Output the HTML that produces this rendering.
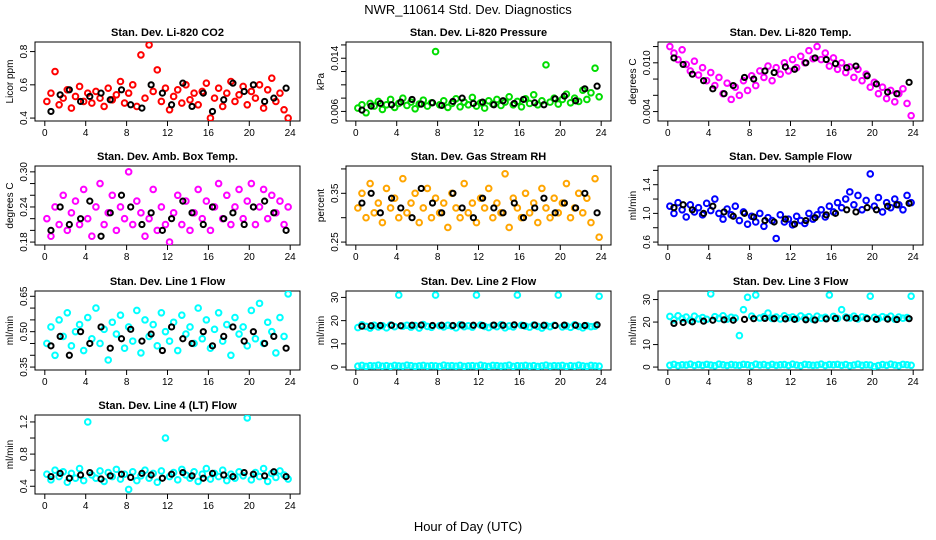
<!DOCTYPE html>
<html><head><meta charset="utf-8"><style>
body{margin:0;background:#fff;}
svg{display:block;font-family:"Liberation Sans",sans-serif;}
</style></head><body>
<svg id="chart" width="936" height="540" viewBox="0 0 936 540">
<text x="468" y="14" text-anchor="middle" font-size="13">NWR_110614 Std. Dev. Diagnostics</text>
<text x="468" y="531" text-anchor="middle" font-size="13">Hour of Day (UTC)</text>
</svg>
<script>
const hours = [0.2,0.6,1.0,1.4,1.8,2.2,2.6,3.0,3.4,3.8,4.2,4.6,5.0,5.4,5.8,6.2,6.6,7.0,7.4,7.8,8.2,8.6,9.0,9.4,9.8,10.2,10.6,11.0,11.4,11.8,12.2,12.6,13.0,13.4,13.8,14.2,14.6,15.0,15.4,15.8,16.2,16.6,17.0,17.4,17.8,18.2,18.6,19.0,19.4,19.8,20.2,20.6,21.0,21.4,21.8,22.2,22.6,23.0,23.4,23.8];
const hoursBlack = [0.6,1.5,2.4,3.5,4.4,5.5,6.4,7.5,8.4,9.5,10.4,11.5,12.4,13.5,14.4,15.5,16.4,17.5,18.4,19.5,20.4,21.5,22.4,23.6];
const xTicks = [0,4,8,12,16,20,24];

const co2 = [0.50,0.55,0.68,0.48,0.52,0.57,0.46,0.53,0.59,0.50,0.55,0.49,0.56,0.52,0.47,0.58,0.51,0.54,0.62,0.49,0.55,0.60,0.47,0.78,0.52,0.84,0.56,0.69,0.50,0.58,0.45,0.53,0.57,0.49,0.60,0.51,0.55,0.48,0.56,0.61,0.40,0.52,0.58,0.47,0.55,0.62,0.50,0.54,0.59,0.48,0.56,0.52,0.60,0.46,0.57,0.64,0.50,0.55,0.45,0.40];
const co2Black = [0.44,0.54,0.57,0.50,0.53,0.55,0.51,0.57,0.48,0.46,0.60,0.55,0.48,0.61,0.47,0.55,0.44,0.51,0.61,0.56,0.60,0.50,0.52,0.58];
const pressure = [0.0065,0.0070,0.0058,0.0072,0.0068,0.0075,0.0063,0.0070,0.0078,0.0066,0.0072,0.0080,0.0069,0.0074,0.0064,0.0071,0.0077,0.0068,0.0073,0.0150,0.0070,0.0076,0.0066,0.0072,0.0079,0.0067,0.0074,0.0070,0.0081,0.0068,0.0073,0.0065,0.0076,0.0071,0.0078,0.0069,0.0074,0.0082,0.0070,0.0075,0.0067,0.0079,0.0072,0.0085,0.0070,0.0076,0.0130,0.0074,0.0080,0.0071,0.0078,0.0086,0.0073,0.0080,0.0075,0.0092,0.0078,0.0088,0.0125,0.0082];
const pressureBlack = [0.0062,0.0068,0.0072,0.0070,0.0074,0.0078,0.0071,0.0073,0.0069,0.0075,0.0080,0.0072,0.0074,0.0070,0.0076,0.0072,0.0078,0.0073,0.0070,0.0079,0.0083,0.0076,0.0094,0.0098];
const temp = [0.0120,0.0112,0.0104,0.0116,0.0098,0.0090,0.0102,0.0085,0.0094,0.0078,0.0088,0.0072,0.0082,0.0062,0.0075,0.0055,0.0070,0.0060,0.0078,0.0066,0.0084,0.0072,0.0090,0.0082,0.0096,0.0078,0.0094,0.0086,0.0100,0.0090,0.0104,0.0094,0.0108,0.0100,0.0115,0.0105,0.0120,0.0104,0.0112,0.0096,0.0106,0.0092,0.0100,0.0088,0.0095,0.0082,0.0092,0.0078,0.0086,0.0070,0.0076,0.0062,0.0070,0.0056,0.0066,0.0052,0.0062,0.0068,0.0050,0.0035];
const tempBlack = [0.0106,0.0098,0.0086,0.0078,0.0068,0.0062,0.0072,0.0082,0.0080,0.0090,0.0088,0.0095,0.0092,0.0100,0.0106,0.0104,0.0099,0.0094,0.0096,0.0084,0.0074,0.0064,0.0062,0.0076];
const ambTemp = [0.22,0.19,0.24,0.21,0.26,0.20,0.23,0.25,0.21,0.27,0.22,0.19,0.24,0.28,0.21,0.23,0.26,0.20,0.24,0.22,0.30,0.21,0.25,0.23,0.19,0.22,0.27,0.20,0.24,0.21,0.18,0.23,0.26,0.21,0.25,0.20,0.23,0.27,0.22,0.25,0.20,0.24,0.28,0.22,0.26,0.21,0.24,0.27,0.22,0.25,0.28,0.21,0.24,0.27,0.22,0.26,0.23,0.25,0.21,0.24];
const ambTempBlack = [0.20,0.24,0.21,0.22,0.25,0.19,0.23,0.26,0.24,0.21,0.23,0.20,0.22,0.25,0.23,0.21,0.24,0.22,0.23,0.21,0.24,0.25,0.23,0.20];
const rh = [0.32,0.35,0.30,0.37,0.31,0.33,0.29,0.36,0.32,0.34,0.30,0.38,0.31,0.33,0.35,0.29,0.32,0.36,0.30,0.34,0.31,0.33,0.28,0.35,0.32,0.30,0.37,0.31,0.33,0.29,0.34,0.32,0.36,0.30,0.33,0.31,0.39,0.28,0.34,0.32,0.30,0.35,0.31,0.33,0.29,0.36,0.32,0.30,0.34,0.31,0.33,0.37,0.30,0.32,0.35,0.31,0.34,0.29,0.38,0.26];
const rhBlack = [0.33,0.35,0.31,0.34,0.32,0.30,0.36,0.33,0.31,0.35,0.32,0.30,0.34,0.32,0.31,0.33,0.30,0.32,0.34,0.31,0.33,0.32,0.35,0.31];
const sampleFlow = [1.10,1.00,1.15,1.05,0.95,1.12,1.02,1.08,0.98,1.14,1.04,1.20,1.00,0.92,1.06,0.98,1.10,0.90,1.02,0.85,0.96,0.88,1.00,0.82,0.94,0.90,0.65,0.98,0.88,0.92,0.84,0.96,0.90,0.86,1.00,0.92,0.98,1.05,0.95,1.10,1.02,1.15,1.08,1.20,1.30,1.12,1.25,1.05,1.18,1.55,1.10,1.22,1.02,1.15,1.08,1.20,1.12,1.05,1.25,1.15];
const sampleFlowBlack = [1.08,1.12,1.05,1.00,1.10,1.02,0.96,1.00,0.95,0.90,0.88,0.92,0.85,0.90,0.94,0.98,1.00,1.05,1.02,1.08,1.05,1.10,1.12,1.14];
const line1 = [0.45,0.52,0.40,0.55,0.48,0.58,0.44,0.50,0.53,0.42,0.56,0.47,0.60,0.45,0.51,0.38,0.54,0.49,0.57,0.43,0.52,0.46,0.59,0.41,0.55,0.48,0.53,0.44,0.58,0.50,0.46,0.54,0.42,0.57,0.49,0.52,0.45,0.60,0.47,0.55,0.43,0.51,0.58,0.46,0.53,0.40,0.56,0.49,0.52,0.44,0.59,0.47,0.62,0.45,0.54,0.50,0.41,0.56,0.48,0.66];
const line1Black = [0.44,0.48,0.40,0.50,0.45,0.52,0.43,0.47,0.51,0.46,0.49,0.42,0.52,0.47,0.45,0.50,0.44,0.48,0.52,0.46,0.50,0.45,0.48,0.43];
const line2 = [17.0,18.2,17.5,16.8,18.0,17.3,17.8,16.9,18.1,17.4,31.0,17.6,18.0,17.2,17.9,16.8,18.3,17.5,17.1,31.0,17.8,17.3,18.0,17.6,16.9,18.2,17.4,17.8,17.2,31.0,18.1,17.5,17.0,17.9,17.4,18.2,16.9,17.7,17.3,31.0,18.0,17.6,17.2,18.1,17.5,16.8,17.9,17.4,18.0,31.0,17.3,17.7,17.1,18.2,17.5,16.9,17.8,17.4,17.6,30.5];
const line2Low = [0.4,0.7,0.3,0.6,0.5,0.8,0.4,0.6,0.3,0.7,0.5,0.4,0.8,0.6,0.3,0.5,0.7,0.4,0.6,0.5,0.3,0.8,0.5,0.6,0.4,0.7,0.3,0.5,0.6,0.4,0.8,0.5,0.3,0.7,0.6,0.4,0.5,0.8,0.3,0.6,0.5,0.7,0.4,0.6,0.3,0.5,0.8,0.4,0.6,0.5,0.7,0.3,0.6,0.4,0.8,0.5,0.3,0.7,0.5,0.4];
const line2Black = [17.6,17.8,17.9,18.0,17.8,18.0,18.1,17.9,18.0,17.9,18.1,18.0,17.9,18.1,18.0,18.2,17.9,18.1,18.0,17.9,18.1,18.0,17.9,18.2];
const line3 = [22.5,21.0,22.8,21.5,22.2,20.8,22.6,21.4,22.0,21.2,32.5,22.4,21.6,22.8,21.3,22.1,21.8,14.0,25.5,31.0,22.6,32.0,21.8,22.4,24.0,21.6,22.2,21.4,22.8,21.9,22.3,21.5,22.7,21.8,22.4,21.2,22.6,21.7,22.1,32.0,22.5,21.6,25.5,22.2,21.8,22.6,21.4,22.3,21.9,31.5,22.1,21.5,22.4,21.8,22.6,21.3,22.2,21.7,22.0,31.5];
const line3Low = [0.8,1.2,0.6,1.0,0.9,1.3,0.7,1.1,0.8,1.2,0.9,0.6,1.3,1.0,0.7,1.1,0.9,0.8,1.2,1.0,0.6,1.3,0.9,1.1,0.7,1.2,0.8,1.0,1.1,0.7,1.3,0.9,0.6,1.2,1.0,0.8,0.9,1.3,0.7,1.1,1.0,1.2,0.8,1.1,0.6,0.9,1.3,0.8,1.0,0.9,0.2,0.7,1.1,0.8,1.3,0.9,0.6,1.2,1.0,0.8];
const line3Black = [19.4,19.8,20.1,20.4,20.8,21.0,20.8,21.2,21.5,21.6,21.5,21.4,21.2,21.0,20.9,21.4,21.6,21.8,21.6,21.5,21.2,21.3,21.1,21.5];
const line4 = [0.55,0.48,0.60,0.52,0.58,0.45,0.56,0.50,0.62,0.47,1.20,0.54,0.50,0.59,0.46,0.57,0.52,0.61,0.49,0.55,0.36,0.58,0.47,0.53,0.60,0.50,0.56,0.45,0.59,1.00,0.52,0.57,0.48,0.61,0.54,0.50,0.58,0.46,0.55,0.62,0.49,0.56,0.52,0.60,0.47,0.55,0.50,0.58,0.53,1.25,0.48,0.57,0.52,0.62,0.46,0.56,0.51,0.59,0.54,0.49];
const line4Black = [0.52,0.56,0.50,0.54,0.57,0.49,0.53,0.55,0.51,0.56,0.54,0.50,0.55,0.57,0.53,0.50,0.56,0.54,0.52,0.57,0.55,0.53,0.58,0.52];

const panels = [
 {name:'co2',title:'Stan. Dev. Li-820 CO2',ylab:'Licor ppm',col:0,row:0,ymin:0.40,ymax:0.84,ticks:[0.4,0.6,0.8],labels:[0.4,0.6,0.8],color:'#ff0000',series:[co2],black:co2Black,dec:1},
 {name:'pressure',title:'Stan. Dev. Li-820 Pressure',ylab:'kPa',col:1,row:0,ymin:0.0050,ymax:0.0160,ticks:[0.006,0.008,0.010,0.012,0.014,0.016],labels:[0.006,0.014],color:'#00dd00',series:[pressure],black:pressureBlack,dec:3},
 {name:'temp',title:'Stan. Dev. Li-820 Temp.',ylab:'degrees C',col:2,row:0,ymin:0.0032,ymax:0.0122,ticks:[0.004,0.006,0.008,0.010,0.012],labels:[0.004,0.010],color:'#ff00ff',series:[temp],black:tempBlack,dec:3},
 {name:'amb-temp',title:'Stan. Dev. Amb. Box Temp.',ylab:'degrees C',col:0,row:1,ymin:0.18,ymax:0.305,ticks:[0.18,0.20,0.22,0.24,0.26,0.28,0.30],labels:[0.18,0.24,0.30],color:'#ff00ff',series:[ambTemp],black:ambTempBlack,dec:2},
 {name:'rh',title:'Stan. Dev. Gas Stream RH',ylab:'percent',col:1,row:1,ymin:0.25,ymax:0.40,ticks:[0.25,0.30,0.35,0.40],labels:[0.25,0.35],color:'#ffa500',series:[rh],black:rhBlack,dec:2},
 {name:'sample-flow',title:'Stan. Dev. Sample Flow',ylab:'ml/min',col:2,row:1,ymin:0.60,ymax:1.62,ticks:[0.6,0.8,1.0,1.2,1.4,1.6],labels:[0.6,1.0,1.4],color:'#0000ff',series:[sampleFlow],black:sampleFlowBlack,dec:1},
 {name:'line1',title:'Stan. Dev. Line 1 Flow',ylab:'ml/min',col:0,row:2,ymin:0.35,ymax:0.66,ticks:[0.35,0.40,0.45,0.50,0.55,0.60,0.65],labels:[0.35,0.50,0.65],color:'#00ffff',series:[line1],black:line1Black,dec:2},
 {name:'line2',title:'Stan. Dev. Line 2 Flow',ylab:'ml/min',col:1,row:2,ymin:0,ymax:31.5,ticks:[0,10,20,30],labels:[0,10,20,30],color:'#00ffff',series:[line2,line2Low],black:line2Black,dec:0},
 {name:'line3',title:'Stan. Dev. Line 3 Flow',ylab:'ml/min',col:2,row:2,ymin:0,ymax:32.5,ticks:[0,10,20,30],labels:[0,10,20,30],color:'#00ffff',series:[line3,line3Low],black:line3Black,dec:0},
 {name:'line4',title:'Stan. Dev. Line 4 (LT) Flow',ylab:'ml/min',col:0,row:3,ymin:0.34,ymax:1.25,ticks:[0.4,0.6,0.8,1.0,1.2],labels:[0.4,0.8,1.2],color:'#00ffff',series:[line4],black:line4Black,dec:1}
];

const NS='http://www.w3.org/2000/svg';
const svg=document.getElementById('chart');
const colLeft=[35,346,658], rowTop=[42,166,291,415], W=265, H=79;
function mk(tag,attrs,parent){const e=document.createElementNS(NS,tag);for(const k in attrs)e.setAttribute(k,attrs[k]);parent.appendChild(e);return e;}

panels.forEach(p=>{
  const L=colLeft[p.col], T=rowTop[p.row];
  const g=mk('g',{},svg);
  
  
  const xr=24*0.04, yr=(p.ymax-p.ymin)*0.04;
  const xs=v=>L+(v+xr)/(24+2*xr)*W;
  const ys=v=>T+H-(v-p.ymin+yr)/(p.ymax-p.ymin+2*yr)*H;
  const t=mk('text',{x:L+W/2,y:T-6,'text-anchor':'middle','font-size':'11','font-weight':'bold'},g);
  t.textContent=p.title;
  
  
  const yl=mk('text',{x:0,y:0,'text-anchor':'middle','font-size':'10',transform:`translate(${L-22},${T+H/2}) rotate(-90)`},g);
  yl.textContent=p.ylab;
  
  
  const xa=mk('g',{},g);
  
  
  mk('line',{x1:xs(0),x2:xs(24),y1:T+H,y2:T+H,stroke:'#000'},xa);
  xTicks.forEach(v=>{
    mk('line',{x1:xs(v),x2:xs(v),y1:T+H,y2:T+H+5,stroke:'#000'},xa);
    const tl=mk('text',{x:xs(v),y:T+H+15,'text-anchor':'middle','font-size':'10'},xa);
    tl.textContent=v;
  });
  const ya=mk('g',{},g);
  
  
  const lo=p.ymin-yr, hi=p.ymax+yr;
  const vis=p.ticks.filter(v=>v>=lo-1e-9&&v<=hi+1e-9);
  mk('line',{x1:L,x2:L,y1:ys(vis[0]),y2:ys(vis[vis.length-1]),stroke:'#000'},ya);
  vis.forEach(v=>{
    mk('line',{x1:L-5,x2:L,y1:ys(v),y2:ys(v),stroke:'#000'},ya);
  });
  p.labels.forEach(v=>{
    const tl=mk('text',{x:0,y:0,'text-anchor':'middle','font-size':'10',transform:`translate(${L-8},${ys(v)}) rotate(-90)`},ya);
    tl.textContent=v.toFixed(p.dec);
  });
  mk('rect',{x:L,y:T,width:W,height:H,fill:'none',stroke:'#000'},g);
  const cp='clip-'+p.name;
  const cl=mk('clipPath',{id:cp},g);
  mk('rect',{x:L,y:T,width:W,height:H},cl);
  const pts=mk('g',{'clip-path':`url(#${cp})`,fill:'none','stroke-width':'2'},g);
  p.series.forEach(arr=>{
    arr.forEach((v,i)=>{
      const c=mk('circle',{cx:xs(hours[i]),cy:ys(v),r:2.8,stroke:p.color},pts);
      
      
    });
  });
  p.black.forEach((v,i)=>{
    const c=mk('circle',{cx:xs(hoursBlack[i]),cy:ys(v),r:2.6,stroke:'#000'},pts);
    
    
  });
});
</script>
</body></html>
